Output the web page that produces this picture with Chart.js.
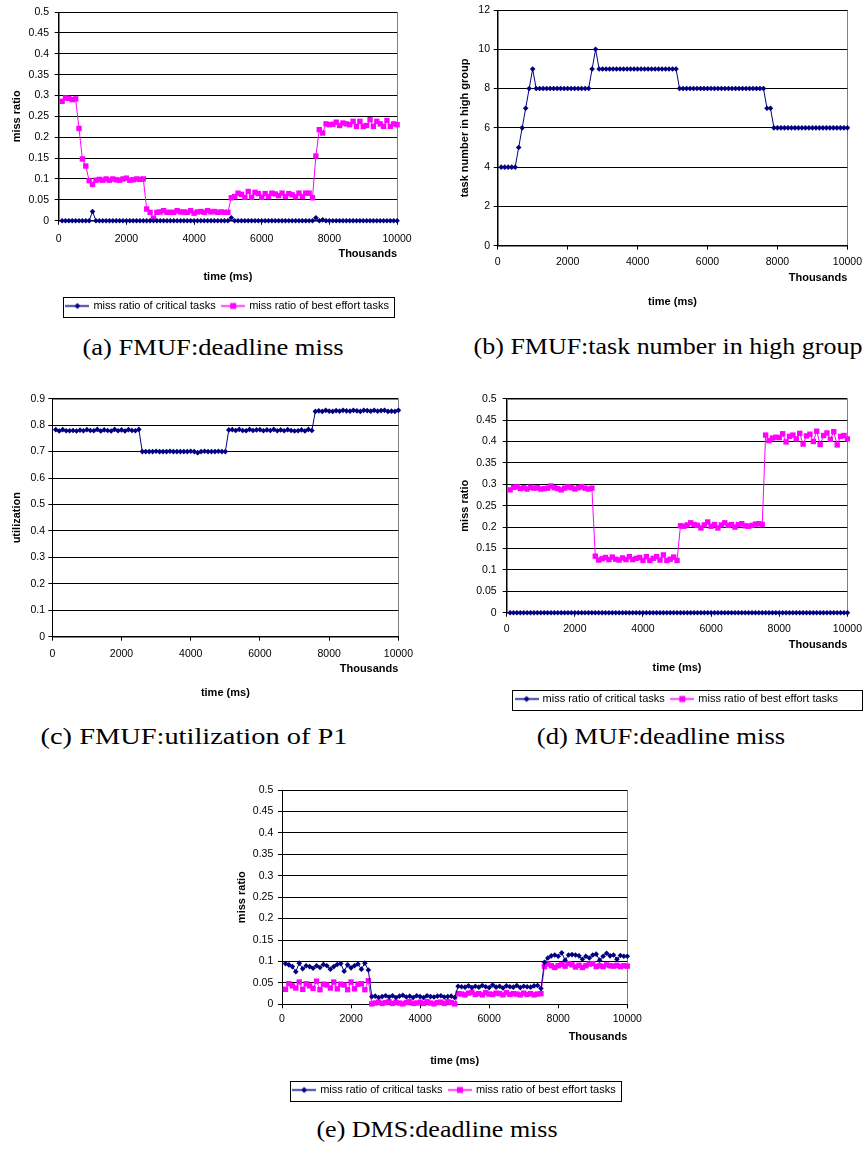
<!DOCTYPE html>
<html>
<head>
<meta charset="utf-8">
<title>FMUF / MUF / DMS</title>
<script src="https://cdn.jsdelivr.net/npm/chart.js@4.4.0/dist/chart.umd.min.js"></script>
<style>
  html, body { margin: 0; padding: 0; background: #fff; }
  #page { position: relative; width: 868px; height: 1149px; overflow: hidden; }
  #page canvas { position: absolute; }
  .caption {
    position: absolute;
    white-space: nowrap;
    font-family: 'Liberation Serif', 'Times New Roman', serif;
    font-size: 23.5px;
    line-height: 1;
    color: #000;
  }
</style>
</head>
<body>
<div id="page">
  <canvas id="chartA"></canvas>
  <canvas id="chartB"></canvas>
  <canvas id="chartC"></canvas>
  <canvas id="chartD"></canvas>
  <canvas id="chartE"></canvas>
  <div class="caption" id="capA">(a) FMUF:deadline miss</div>
  <div class="caption" id="capB">(b) FMUF:task number in high group</div>
  <div class="caption" id="capC">(c) FMUF:utilization of P1</div>
  <div class="caption" id="capD">(d) MUF:deadline miss</div>
  <div class="caption" id="capE">(e) DMS:deadline miss</div>
</div>
<script>
// time axis (shown in thousands)
const timeMs = [
  100, 200, 300, 400, 500, 600, 700, 800, 900, 1000,
  1100, 1200, 1300, 1400, 1500, 1600, 1700, 1800, 1900, 2000,
  2100, 2200, 2300, 2400, 2500, 2600, 2700, 2800, 2900, 3000,
  3100, 3200, 3300, 3400, 3500, 3600, 3700, 3800, 3900, 4000,
  4100, 4200, 4300, 4400, 4500, 4600, 4700, 4800, 4900, 5000,
  5100, 5200, 5300, 5400, 5500, 5600, 5700, 5800, 5900, 6000,
  6100, 6200, 6300, 6400, 6500, 6600, 6700, 6800, 6900, 7000,
  7100, 7200, 7300, 7400, 7500, 7600, 7700, 7800, 7900, 8000,
  8100, 8200, 8300, 8400, 8500, 8600, 8700, 8800, 8900, 9000,
  9100, 9200, 9300, 9400, 9500, 9600, 9700, 9800, 9900, 10000
];
const xTicks = [0, 2000, 4000, 6000, 8000, 10000];

// (a) FMUF deadline miss
const fmufCritical = [
  0, 0, 0, 0, 0, 0, 0, 0, 0, 0.022,
  0, 0, 0, 0, 0, 0, 0, 0, 0, 0,
  0, 0, 0, 0, 0, 0, 0, 0, 0, 0,
  0, 0, 0, 0, 0, 0, 0, 0, 0, 0,
  0, 0, 0, 0, 0, 0, 0, 0, 0, 0,
  0.007, 0, 0, 0, 0, 0, 0, 0, 0, 0,
  0, 0, 0, 0, 0, 0, 0, 0, 0, 0,
  0, 0, 0, 0, 0, 0.007, 0, 0.002, 0, 0,
  0, 0, 0, 0, 0, 0, 0, 0, 0, 0,
  0, 0, 0, 0, 0, 0, 0, 0, 0, 0
];
const fmufBestEffort = [
  0.286, 0.294, 0.293, 0.29, 0.292, 0.221, 0.148, 0.131, 0.096, 0.087,
  0.097, 0.099, 0.097, 0.1, 0.097, 0.1, 0.098, 0.097, 0.1, 0.102,
  0.097, 0.098, 0.1, 0.099, 0.1, 0.028, 0.02, 0.006, 0.02, 0.021,
  0.024, 0.02, 0.02, 0.02, 0.024, 0.021, 0.021, 0.02, 0.024, 0.018,
  0.021, 0.022, 0.02, 0.024, 0.021, 0.022, 0.02, 0.021, 0.02, 0.02,
  0.055, 0.058, 0.066, 0.063, 0.056, 0.07, 0.056, 0.068, 0.065, 0.056,
  0.065, 0.058, 0.066, 0.064, 0.06, 0.066, 0.058, 0.065, 0.062, 0.057,
  0.066, 0.058, 0.066, 0.066, 0.055, 0.155, 0.218, 0.21, 0.232, 0.23,
  0.231, 0.236, 0.228, 0.234, 0.232, 0.23, 0.238, 0.226, 0.238, 0.226,
  0.228, 0.242, 0.226, 0.238, 0.232, 0.226, 0.24, 0.226, 0.232, 0.23
];

// (b) FMUF task number in high group
const taskNumber = [
  4, 4, 4, 4, 4, 5, 6, 7, 8, 9,
  8, 8, 8, 8, 8, 8, 8, 8, 8, 8,
  8, 8, 8, 8, 8, 8, 9, 10, 9, 9,
  9, 9, 9, 9, 9, 9, 9, 9, 9, 9,
  9, 9, 9, 9, 9, 9, 9, 9, 9, 9,
  9, 8, 8, 8, 8, 8, 8, 8, 8, 8,
  8, 8, 8, 8, 8, 8, 8, 8, 8, 8,
  8, 8, 8, 8, 8, 8, 7, 7, 6, 6,
  6, 6, 6, 6, 6, 6, 6, 6, 6, 6,
  6, 6, 6, 6, 6, 6, 6, 6, 6, 6
];

// (c) FMUF utilization of P1
const utilization = [
  0.783, 0.778, 0.783, 0.779, 0.779, 0.78, 0.778, 0.781, 0.779, 0.783,
  0.78, 0.779, 0.784, 0.778, 0.782, 0.78, 0.778, 0.784, 0.779, 0.782,
  0.778, 0.783, 0.78, 0.779, 0.784, 0.7, 0.7, 0.7, 0.7, 0.701,
  0.7, 0.7, 0.7, 0.701, 0.7, 0.7, 0.7, 0.7, 0.7, 0.701,
  0.7, 0.696, 0.7, 0.701, 0.7, 0.7, 0.7, 0.701, 0.7, 0.7,
  0.782, 0.783, 0.78, 0.784, 0.78, 0.779, 0.784, 0.78, 0.782, 0.783,
  0.779, 0.782, 0.78, 0.784, 0.779, 0.782, 0.779, 0.783, 0.78, 0.778,
  0.779, 0.782, 0.778, 0.784, 0.78, 0.852, 0.854, 0.852, 0.856, 0.853,
  0.852, 0.855, 0.853, 0.856, 0.854, 0.853, 0.856, 0.854, 0.852, 0.856,
  0.855, 0.853, 0.856, 0.853, 0.855, 0.856, 0.852, 0.853, 0.852, 0.856
];

// (d) MUF deadline miss
const mufCritical = [
  0, 0, 0, 0, 0, 0, 0, 0, 0, 0,
  0, 0, 0, 0, 0, 0, 0, 0, 0, 0,
  0, 0, 0, 0, 0, 0, 0, 0, 0, 0,
  0, 0, 0, 0, 0, 0, 0, 0, 0, 0,
  0, 0, 0, 0, 0, 0, 0, 0, 0, 0,
  0, 0, 0, 0, 0, 0, 0, 0, 0, 0,
  0, 0, 0, 0, 0, 0, 0, 0, 0, 0,
  0, 0, 0, 0, 0, 0, 0, 0, 0, 0,
  0, 0, 0, 0, 0, 0, 0, 0, 0, 0,
  0, 0, 0, 0, 0, 0, 0, 0, 0, 0
];
const mufBestEffort = [
  0.287, 0.293, 0.294, 0.29, 0.292, 0.289, 0.293, 0.291, 0.292, 0.289,
  0.29, 0.291, 0.296, 0.292, 0.29, 0.287, 0.291, 0.294, 0.292, 0.289,
  0.292, 0.294, 0.291, 0.289, 0.291, 0.132, 0.123, 0.126, 0.129, 0.124,
  0.13, 0.125, 0.123, 0.128, 0.124, 0.131, 0.124, 0.127, 0.129, 0.122,
  0.131, 0.122, 0.127, 0.131, 0.123, 0.135, 0.122, 0.125, 0.13, 0.122,
  0.203, 0.202, 0.205, 0.21, 0.206, 0.204, 0.198, 0.205, 0.212, 0.202,
  0.206, 0.198, 0.205, 0.21, 0.204, 0.206, 0.2, 0.206, 0.208, 0.203,
  0.202, 0.204, 0.207, 0.208, 0.206, 0.415, 0.402, 0.408, 0.41, 0.409,
  0.418, 0.399, 0.412, 0.415, 0.406, 0.419, 0.394, 0.413, 0.417, 0.4,
  0.424, 0.393, 0.414, 0.42, 0.405, 0.423, 0.392, 0.412, 0.414, 0.406
];

// (e) DMS deadline miss
const dmsCritical = [
  0.095, 0.092, 0.088, 0.076, 0.096, 0.083, 0.09, 0.088, 0.084, 0.09,
  0.086, 0.093, 0.09, 0.082, 0.088, 0.093, 0.095, 0.077, 0.092, 0.085,
  0.09, 0.094, 0.082, 0.096, 0.08, 0.018, 0.019, 0.016, 0.018, 0.02,
  0.017, 0.02, 0.016, 0.019, 0.021, 0.017, 0.019, 0.016, 0.02, 0.018,
  0.016, 0.02, 0.018, 0.017, 0.019, 0.02, 0.017, 0.018, 0.019, 0.016,
  0.042, 0.041, 0.04, 0.043, 0.039, 0.042, 0.04, 0.044, 0.041, 0.039,
  0.045, 0.04, 0.042, 0.038, 0.043, 0.041, 0.04, 0.044, 0.039, 0.042,
  0.041, 0.04, 0.043, 0.044, 0.037, 0.098, 0.108, 0.113, 0.115, 0.112,
  0.12, 0.103, 0.115, 0.116, 0.115, 0.113, 0.105, 0.112, 0.108, 0.115,
  0.117, 0.103, 0.112, 0.119, 0.113, 0.115, 0.105, 0.114, 0.112, 0.112
];
const dmsBestEffort = [
  0.035, 0.048, 0.043, 0.038, 0.052, 0.035, 0.048, 0.043, 0.037, 0.054,
  0.034, 0.047, 0.045, 0.038, 0.052, 0.036, 0.047, 0.045, 0.034, 0.052,
  0.036, 0.047, 0.048, 0.034, 0.055, 0.001, 0.003, 0.005, 0.002, 0.004,
  0.006, 0.002, 0.005, 0.003, 0.001, 0.004, 0.006, 0.002, 0.003, 0.005,
  0.002, 0.006, 0.003, 0.001, 0.004, 0.005, 0.002, 0.006, 0.004, 0.001,
  0.025, 0.024, 0.022, 0.026, 0.028, 0.023, 0.025, 0.022, 0.027, 0.024,
  0.023, 0.026, 0.025, 0.022, 0.027, 0.023, 0.025, 0.024, 0.022, 0.026,
  0.023, 0.025, 0.022, 0.024, 0.025, 0.088, 0.094, 0.09, 0.086, 0.09,
  0.093, 0.089, 0.095, 0.092, 0.087, 0.091, 0.086, 0.09, 0.094, 0.095,
  0.088, 0.09, 0.088, 0.092, 0.09, 0.089, 0.091, 0.088, 0.09, 0.089
];

const seriesNames = ['miss ratio of critical tasks', 'miss ratio of best effort tasks'];

const NAVY = '#000080';
const MAGENTA = '#FF00FF';

Chart.defaults.font.family = "'Liberation Sans', Arial, sans-serif";
Chart.defaults.color = '#000';

// 位置・サイズ（ページ座標）
const TITLE_LH = 13.2;   // 11px * 1.2
const TICK_LH = 12.6;    // 10.5px * 1.2
const TICK_LEN = 4;
const LEG_PAD = 7;

const layoutA = { canvas: 'chartA', left: 0, top: 0, width: 420, area: { l: 58.7, t: 6.3, r: 403.3, b: 220.7 },
  tickY: 239.3, thousandsY: 253.5, timeY: 277, legendY: 306, legendPadR: 5, yTitleX: 16.5, yGap: 9.7 };
const layoutB = { canvas: 'chartB', left: 430, top: 0, width: 438, area: { l: 497.7, t: 6.7, r: 851.7, b: 245.7 },
  tickY: 262, thousandsY: 278, timeY: 302, legendY: null, yTitleX: 465, yGap: 7.7 };
const layoutC = { canvas: 'chartC', left: 0, top: 380, width: 420, area: { l: 52.3, t: 398.7, r: 403.3, b: 636.7 },
  tickY: 654, thousandsY: 669, timeY: 693, legendY: null, yTitleX: 17, yGap: 7.3 };
const layoutD = { canvas: 'chartD', left: 440, top: 380, width: 428, area: { l: 506.7, t: 398.7, r: 852.7, b: 612.7 },
  tickY: 629, thousandsY: 645, timeY: 668, legendY: 699, legendPadR: 24, yTitleX: 465, yGap: 10 };
const layoutE = { canvas: 'chartE', left: 220, top: 770, width: 430, area: { l: 282, t: 790, r: 627.3, b: 1004.3 },
  tickY: 1019, thousandsY: 1037, timeY: 1061, legendY: 1090, legendPadR: 5, yTitleX: 241.7, yGap: 8.7 };

const captions = [
  { id: 'capA', cx: 212.5, cy: 348, w: 261 },
  { id: 'capB', cx: 667.5, cy: 347, w: 389 },
  { id: 'capC', cx: 193.5, cy: 737, w: 307 },
  { id: 'capD', cx: 661, cy: 737, w: 248 },
  { id: 'capE', cx: 436.5, cy: 1130, w: 241 }
];

// グレーのプロット枠
const plotFrame = {
  id: 'plotFrame',
  beforeDraw(chart) {
    const { ctx, chartArea: a } = chart;
    ctx.save();
    ctx.strokeStyle = '#808080';
    ctx.lineWidth = 1;
    ctx.strokeRect(Math.round(a.left) + 0.5, Math.round(a.top) + 0.5,
      Math.round(a.right) - Math.round(a.left), Math.round(a.bottom) - Math.round(a.top));
    ctx.restore();
  }
};

// 凡例の枠線
const legendFrame = {
  id: 'legendFrame',
  afterDraw(chart, args, opts) {
    const lg = chart.legend;
    if (!lg || !lg.options.display || !lg.legendHitBoxes || !lg.legendHitBoxes.length) return;
    const hb = lg.legendHitBoxes;
    const first = hb[0];
    const last = hb[hb.length - 1];
    const x0 = Math.round(first.left - opts.padL) + 0.5;
    const x1 = Math.round(last.left + last.width + opts.padR) + 0.5;
    const y0 = Math.round(first.top - 4) + 0.5;
    const y1 = Math.round(first.top + first.height + 5) + 0.5;
    const ctx = chart.ctx;
    ctx.save();
    ctx.strokeStyle = '#000';
    ctx.lineWidth = 1;
    ctx.strokeRect(x0, y0, x1 - x0, y1 - y0);
    ctx.restore();
  }
};

function makeSample(color, shape) {
  const c = document.createElement('canvas');
  c.width = 24;
  c.height = 9;
  const g = c.getContext('2d');
  g.strokeStyle = color;
  g.lineWidth = 1.5;
  g.beginPath();
  g.moveTo(0, 4.5);
  g.lineTo(24, 4.5);
  g.stroke();
  g.fillStyle = color;
  g.beginPath();
  if (shape === 'diamond') {
    g.moveTo(12, 1.5); g.lineTo(15, 4.5); g.lineTo(12, 7.5); g.lineTo(9, 4.5); g.closePath();
  } else {
    g.rect(9, 1.5, 6, 6);
  }
  g.fill();
  return c;
}
const legendSamples = [makeSample(NAVY, 'diamond'), makeSample(MAGENTA, 'square')];

function toPoints(values) {
  return timeMs.map((t, i) => ({ x: t, y: values[i] }));
}

function criticalSet(label, values) {
  return {
    label, data: toPoints(values),
    borderColor: NAVY, backgroundColor: NAVY, borderWidth: 1,
    pointStyle: 'rectRot', pointRadius: 2.8, pointBorderWidth: 0, pointHoverRadius: 2.8,
    tension: 0, fill: false, clip: false
  };
}
function bestSet(label, values) {
  return {
    label, data: toPoints(values),
    borderColor: MAGENTA, backgroundColor: MAGENTA, borderWidth: 1,
    pointStyle: 'rect', pointRadius: 3.8, pointBorderWidth: 0, pointHoverRadius: 3.8,
    tension: 0, fill: false, clip: false
  };
}

function makeChart(p, datasets, yCfg) {
  const hasLegend = p.legendY !== null;
  const xH = p.thousandsY + TITLE_LH / 2 - p.area.b;
  const titlePT = p.timeY - p.thousandsY - TITLE_LH;
  const legendTop = hasLegend ? p.legendY - LEG_PAD - 5.5 : 0;
  const titlePB = hasLegend ? legendTop - (p.timeY + TITLE_LH / 2) : 4;
  const bottomEdge = hasLegend ? legendTop + (11 + LEG_PAD + 10) : p.timeY + TITLE_LH / 2 + 4;
  const H = Math.ceil(bottomEdge + 4 - p.top);

  const cv = document.getElementById(p.canvas);
  cv.width = p.width;
  cv.height = H;
  cv.style.left = p.left + 'px';
  cv.style.top = p.top + 'px';

  const yW = p.area.l - p.left;

  return new Chart(cv, {
    type: 'line',
    data: { datasets },
    options: {
      responsive: false,
      animation: false,
      devicePixelRatio: 1,
      layout: {
        padding: {
          top: p.area.t - p.top,
          left: 0,
          right: p.left + p.width - p.area.r,
          bottom: H - (bottomEdge - p.top)
        }
      },
      plugins: {
        tooltip: { enabled: false },
        title: {
          display: true, text: 'time (ms)', position: 'bottom', fullSize: false, weight: 500,
          color: '#000', font: { size: 11, weight: 'bold' },
          padding: { top: titlePT, bottom: titlePB }
        },
        legend: hasLegend ? {
          display: true, position: 'bottom', fullSize: false,
          labels: {
            usePointStyle: true, pointStyleWidth: 21, padding: LEG_PAD,
            color: '#000', font: { size: 11 },
            generateLabels(chart) {
              const items = Chart.defaults.plugins.legend.labels.generateLabels(chart);
              items.forEach((it, i) => { it.pointStyle = legendSamples[i]; });
              return items;
            }
          }
        } : { display: false },
        legendFrame: { padL: 4, padR: p.legendPadR || 5 }
      },
      scales: {
        x: {
          type: 'linear', min: 0, max: 10000,
          afterBuildTicks: (s) => { s.ticks = xTicks.map(v => ({ value: v })); },
          ticks: {
            callback: (v) => String(v), padding: p.tickY - p.area.b - TICK_LEN - TICK_LH / 2,
            font: { size: 10.5 }, color: '#000', maxRotation: 0, autoSkip: false
          },
          grid: { drawOnChartArea: false, drawTicks: true, tickLength: TICK_LEN, color: '#000' },
          border: { display: true, color: '#000' },
          title: {
            display: true, text: 'Thousands', align: 'end', color: '#000',
            font: { size: 11, weight: 'bold' }, padding: { top: 0, bottom: 0 }
          },
          afterFit: (s) => { s.height = xH; }
        },
        y: {
          type: 'linear', min: yCfg.min, max: yCfg.max,
          afterBuildTicks: (s) => { s.ticks = yCfg.ticks.map(v => ({ value: v })); },
          ticks: {
            callback: (v) => String(+Number(v).toFixed(2)), padding: p.yGap - TICK_LEN,
            font: { size: 10.5 }, color: '#000'
          },
          grid: { color: '#000', lineWidth: 1, drawTicks: true, tickLength: TICK_LEN },
          border: { display: true, color: '#000' },
          title: {
            display: true, text: yCfg.title, color: '#000',
            font: { size: 11, weight: 'bold' },
            padding: { top: p.yTitleX - p.left - TITLE_LH / 2, bottom: 0 }
          },
          afterFit: (s) => { s.width = yW; }
        }
      }
    },
    plugins: [plotFrame, legendFrame]
  });
}

const missTicks = [0, 0.05, 0.1, 0.15, 0.2, 0.25, 0.3, 0.35, 0.4, 0.45, 0.5];
const taskTicks = [0, 2, 4, 6, 8, 10, 12];
const utilTicks = [0, 0.1, 0.2, 0.3, 0.4, 0.5, 0.6, 0.7, 0.8, 0.9];

makeChart(layoutA,
  [criticalSet(seriesNames[0], fmufCritical), bestSet(seriesNames[1], fmufBestEffort)],
  { min: 0, max: 0.5, ticks: missTicks, title: 'miss ratio' });

makeChart(layoutB,
  [criticalSet('task number in high group', taskNumber)],
  { min: 0, max: 12, ticks: taskTicks, title: 'task number in high group' });

makeChart(layoutC,
  [criticalSet('utilization', utilization)],
  { min: 0, max: 0.9, ticks: utilTicks, title: 'utilization' });

makeChart(layoutD,
  [criticalSet(seriesNames[0], mufCritical), bestSet(seriesNames[1], mufBestEffort)],
  { min: 0, max: 0.5, ticks: missTicks, title: 'miss ratio' });

makeChart(layoutE,
  [criticalSet(seriesNames[0], dmsCritical), bestSet(seriesNames[1], dmsBestEffort)],
  { min: 0, max: 0.5, ticks: missTicks, title: 'miss ratio' });

// キャプション（幅を合わせる）
captions.forEach(c => {
  const el = document.getElementById(c.id);
  const k = c.w / el.offsetWidth;
  el.style.left = c.cx + 'px';
  el.style.top = c.cy + 'px';
  el.style.transform = 'translate(-50%, -50%) scaleX(' + k.toFixed(3) + ')';
});
</script>
</body>
</html>
